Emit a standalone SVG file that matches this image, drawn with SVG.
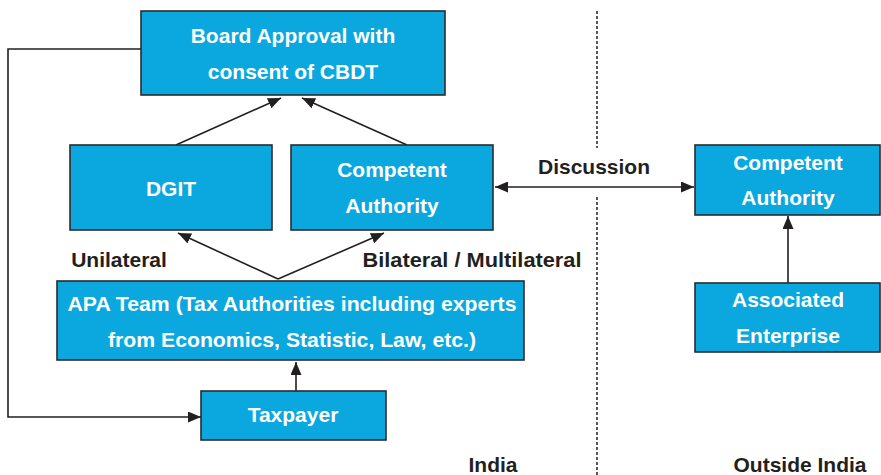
<svg xmlns="http://www.w3.org/2000/svg" width="881" height="475" viewBox="0 0 881 475">
<style>
.box{fill:#0aa8de;stroke:#2b2b2b;stroke-width:1.6}
.bt{font-family:"Liberation Sans",Arial,sans-serif;font-weight:bold;font-size:21px;fill:#ffffff;text-anchor:middle}
.lb{font-family:"Liberation Sans",Arial,sans-serif;font-weight:bold;font-size:21px;fill:#231f20;text-anchor:middle}
.ln{fill:none;stroke:#231f20;stroke-width:1.6}
.dash{fill:none;stroke:#231f20;stroke-width:1.5;stroke-dasharray:3 2}
</style>
<defs>
<marker id="ah" viewBox="0 0 13 11" refX="13" refY="5.5" markerWidth="13" markerHeight="11" markerUnits="userSpaceOnUse" orient="auto-start-reverse">
<path d="M0,0 L13,5.5 L0,11 Z" fill="#231f20"/>
</marker>
</defs>
<rect width="881" height="475" fill="#ffffff"/>
<g id="divider">
<line class="dash" x1="597" y1="11" x2="597" y2="148"/>
<line class="dash" x1="597" y1="197" x2="597" y2="475"/>
</g>
<g id="connectors">
<line class="ln" x1="176" y1="145" x2="281" y2="98" marker-end="url(#ah)"/>
<line class="ln" x1="407" y1="145" x2="302" y2="98" marker-end="url(#ah)"/>
<polyline class="ln" points="278,279 178,233" marker-end="url(#ah)"/>
<polyline class="ln" points="278,279 384,233" marker-end="url(#ah)"/>
<line class="ln" x1="296" y1="391" x2="296" y2="362" marker-end="url(#ah)"/>
<polyline class="ln" points="141,49 8,49 8,417 201,417" marker-end="url(#ah)"/>
<line class="ln" x1="495" y1="187" x2="694" y2="187" marker-start="url(#ah)" marker-end="url(#ah)"/>
<line class="ln" x1="788" y1="283" x2="788" y2="216" marker-end="url(#ah)"/>
</g>
<g id="board">
<rect class="box" x="141" y="11" width="304" height="84"/>
<text class="bt" x="293" y="43">Board Approval with</text>
<text class="bt" x="293" y="79">consent of CBDT</text>
</g>
<g id="dgit">
<rect class="box" x="70" y="145" width="202" height="85"/>
<text class="bt" x="171" y="196">DGIT</text>
</g>
<g id="ca-india">
<rect class="box" x="291" y="145" width="202" height="85"/>
<text class="bt" x="392" y="177">Competent</text>
<text class="bt" x="392" y="213">Authority</text>
</g>
<g id="apa">
<rect class="box" x="57" y="281" width="467" height="79"/>
<text class="bt" x="292" y="311" textLength="449" lengthAdjust="spacingAndGlyphs">APA Team (Tax Authorities including experts</text>
<text class="bt" x="292" y="347" textLength="368" lengthAdjust="spacingAndGlyphs">from Economics, Statistic, Law, etc.)</text>
</g>
<g id="taxpayer">
<rect class="box" x="201" y="391" width="185" height="49"/>
<text class="bt" x="293" y="422">Taxpayer</text>
</g>
<g id="ca-outside">
<rect class="box" x="695" y="145" width="185" height="70"/>
<text class="bt" x="788" y="170">Competent</text>
<text class="bt" x="788" y="205">Authority</text>
</g>
<g id="ae">
<rect class="box" x="695" y="283" width="185" height="69"/>
<text class="bt" x="788" y="307">Associated</text>
<text class="bt" x="788" y="343">Enterprise</text>
</g>
<g id="labels">
<text class="lb" x="119" y="267">Unilateral</text>
<text class="lb" x="472" y="267" textLength="219" lengthAdjust="spacingAndGlyphs">Bilateral / Multilateral</text>
<text class="lb" x="594" y="174">Discussion</text>
<text class="lb" x="493" y="472">India</text>
<text class="lb" x="800" y="472">Outside India</text>
</g>
</svg>
